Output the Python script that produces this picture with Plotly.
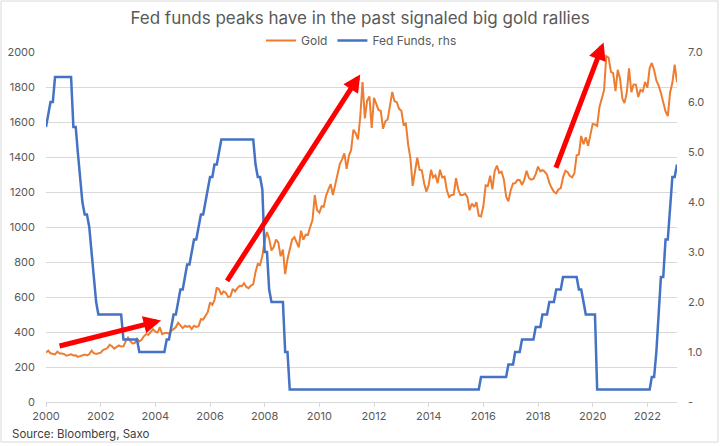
import plotly.graph_objects as go
import pandas as pd

title_text = "Fed funds peaks have in the past signaled big gold rallies"
source_text = "Source: Bloomberg, Saxo"
series_names = ["Gold", "Fed Funds, rhs"]
start_month = "2000-01-01"

# Month-end gold price (USD/oz), Jan 2000 - Feb 2023
gold = [
    283.3, 293.7, 278.4, 275.0, 272.3, 288.2, 276.8, 277.0, 273.6, 264.5, 269.1, 272.2,
    265.6, 266.7, 257.7, 263.2, 267.5, 270.6, 265.9, 273.0, 293.1, 278.8, 275.0, 278.7,
    282.1, 297.0, 302.4, 308.2, 326.6, 318.5, 304.7, 312.8, 323.7, 316.9, 317.7, 347.2,
    368.2, 347.5, 334.9, 336.8, 361.4, 346.0, 354.8, 375.6, 388.0, 383.8, 398.4, 416.3,
    402.2, 396.9, 427.3, 387.5, 393.3, 395.8, 390.9, 408.4, 415.7, 428.4, 452.9, 438.0,
    422.2, 435.5, 428.9, 435.0, 416.9, 435.7, 429.5, 433.3, 473.3, 470.8, 494.6, 513.0,
    568.8, 556.0, 582.0, 654.5, 643.2, 613.5, 632.5, 623.5, 599.3, 604.2, 646.7, 632.0,
    650.5, 664.2, 661.8, 678.4, 657.5, 650.5, 665.5, 672.0, 742.8, 789.5, 783.5, 833.8,
    923.3, 971.5, 933.5, 865.4, 885.8, 928.3, 912.3, 832.9, 870.9, 730.8, 816.2, 869.8,
    927.3, 942.5, 916.5, 883.3, 978.8, 927.4, 955.7, 955.1, 1001.0, 1039.9, 1182.0, 1096.2,
    1081.8, 1118.9, 1115.5, 1179.3, 1213.5, 1245.5, 1182.0, 1247.8, 1307.8, 1359.4, 1386.2, 1421.1,
    1332.3, 1409.7, 1439.0, 1556.0, 1536.2, 1500.4, 1628.3, 1828.5, 1620.4, 1722.0, 1746.4, 1565.8,
    1737.8, 1696.3, 1668.9, 1663.4, 1561.4, 1604.2, 1614.0, 1691.7, 1772.1, 1719.1, 1713.5, 1675.4,
    1663.7, 1578.9, 1595.7, 1472.2, 1393.2, 1234.6, 1312.9, 1395.8, 1326.5, 1323.6, 1250.5, 1201.6,
    1240.1, 1326.4, 1283.8, 1295.9, 1250.5, 1327.3, 1282.6, 1287.5, 1208.2, 1171.1, 1182.7, 1184.4,
    1278.6, 1212.6, 1183.2, 1182.4, 1190.6, 1171.9, 1095.7, 1134.6, 1114.6, 1142.2, 1064.8, 1060.2,
    1118.2, 1238.0, 1234.5, 1292.7, 1214.6, 1320.6, 1351.0, 1308.0, 1315.8, 1272.0, 1173.7, 1147.5,
    1210.5, 1248.7, 1249.2, 1268.3, 1268.9, 1241.6, 1269.3, 1321.4, 1280.2, 1270.2, 1275.0, 1302.5,
    1345.1, 1317.9, 1325.5, 1315.3, 1298.5, 1252.6, 1223.7, 1201.0, 1192.5, 1214.8, 1222.5, 1282.5,
    1321.3, 1313.3, 1292.3, 1283.7, 1305.6, 1409.6, 1413.7, 1520.3, 1472.5, 1513.0, 1463.6, 1517.3,
    1589.2, 1585.7, 1577.2, 1686.3, 1730.3, 1780.9, 1975.9, 1967.6, 1886.9, 1879.9, 1776.9, 1898.4,
    1847.7, 1734.0, 1707.7, 1768.6, 1906.9, 1770.1, 1814.2, 1813.6, 1742.8, 1783.4, 1774.5, 1829.2,
    1796.8, 1908.4, 1937.4, 1896.9, 1837.3, 1807.3, 1765.9, 1711.0, 1660.6, 1633.6, 1768.5, 1824.0,
    1928.4, 1826.9,
]

# Fed funds target rate (upper bound, %), Jan 2000 - Feb 2023
fed_funds = [
    5.5, 5.75, 6.0, 6.0, 6.5, 6.5, 6.5, 6.5, 6.5, 6.5, 6.5, 6.5,
    5.5, 5.5, 5.0, 4.5, 4.0, 3.75, 3.75, 3.5, 3.0, 2.5, 2.0, 1.75,
    1.75, 1.75, 1.75, 1.75, 1.75, 1.75, 1.75, 1.75, 1.75, 1.75, 1.25, 1.25,
    1.25, 1.25, 1.25, 1.25, 1.25, 1.0, 1.0, 1.0, 1.0, 1.0, 1.0, 1.0,
    1.0, 1.0, 1.0, 1.0, 1.0, 1.25, 1.25, 1.5, 1.75, 1.75, 2.0, 2.25,
    2.25, 2.5, 2.75, 2.75, 3.0, 3.25, 3.25, 3.5, 3.75, 3.75, 4.0, 4.25,
    4.5, 4.5, 4.75, 4.75, 5.0, 5.25, 5.25, 5.25, 5.25, 5.25, 5.25, 5.25,
    5.25, 5.25, 5.25, 5.25, 5.25, 5.25, 5.25, 5.25, 4.75, 4.5, 4.5, 4.25,
    3.0, 3.0, 2.25, 2.0, 2.0, 2.0, 2.0, 2.0, 2.0, 1.0, 1.0, 0.25,
    0.25, 0.25, 0.25, 0.25, 0.25, 0.25, 0.25, 0.25, 0.25, 0.25, 0.25, 0.25,
    0.25, 0.25, 0.25, 0.25, 0.25, 0.25, 0.25, 0.25, 0.25, 0.25, 0.25, 0.25,
    0.25, 0.25, 0.25, 0.25, 0.25, 0.25, 0.25, 0.25, 0.25, 0.25, 0.25, 0.25,
    0.25, 0.25, 0.25, 0.25, 0.25, 0.25, 0.25, 0.25, 0.25, 0.25, 0.25, 0.25,
    0.25, 0.25, 0.25, 0.25, 0.25, 0.25, 0.25, 0.25, 0.25, 0.25, 0.25, 0.25,
    0.25, 0.25, 0.25, 0.25, 0.25, 0.25, 0.25, 0.25, 0.25, 0.25, 0.25, 0.25,
    0.25, 0.25, 0.25, 0.25, 0.25, 0.25, 0.25, 0.25, 0.25, 0.25, 0.25, 0.5,
    0.5, 0.5, 0.5, 0.5, 0.5, 0.5, 0.5, 0.5, 0.5, 0.5, 0.5, 0.75,
    0.75, 0.75, 1.0, 1.0, 1.0, 1.25, 1.25, 1.25, 1.25, 1.25, 1.25, 1.5,
    1.5, 1.5, 1.75, 1.75, 1.75, 2.0, 2.0, 2.0, 2.25, 2.25, 2.25, 2.5,
    2.5, 2.5, 2.5, 2.5, 2.5, 2.5, 2.25, 2.25, 2.0, 1.75, 1.75, 1.75,
    1.75, 1.75, 0.25, 0.25, 0.25, 0.25, 0.25, 0.25, 0.25, 0.25, 0.25, 0.25,
    0.25, 0.25, 0.25, 0.25, 0.25, 0.25, 0.25, 0.25, 0.25, 0.25, 0.25, 0.25,
    0.25, 0.25, 0.5, 0.5, 1.0, 1.75, 2.5, 2.5, 3.25, 3.25, 4.0, 4.5,
    4.5, 4.75,
]

x_tick_years = ["2000", "2002", "2004", "2006", "2008", "2010", "2012",
                "2014", "2016", "2018", "2020", "2022"]
left_ticks = [0, 200, 400, 600, 800, 1000, 1200, 1400, 1600, 1800, 2000]
right_tickvals = [0, 1, 2, 3, 4, 5, 6, 7]
right_ticktext = ["-", "1.0", "2.0", "3.0", "4.0", "5.0", "6.0", "7.0"]

months = pd.date_range(start_month, periods=len(gold), freq="MS")

FONT = "Inter"
GRAY = "#595959"
GRID = "#D9D9D9"

fig = go.Figure()
fig.add_trace(go.Scatter(x=months, y=gold, name=series_names[0], mode="lines",
                         line=dict(color="#ED7D31", width=2), yaxis="y"))
fig.add_trace(go.Scatter(x=months, y=fed_funds, name=series_names[1], mode="lines",
                         line=dict(color="#4472C4", width=2.5), yaxis="y2"))

arrows = [
    ("2004-03-17", 466, "2000-06-10", 318),
    ("2011-07-01", 1872, "2006-08-04", 684),
    ("2020-05-26", 2055, "2018-08-21", 1330),
]
for tx, ty, sx, sy in arrows:
    fig.add_annotation(x=tx, y=ty, ax=sx, ay=sy, xref="x", yref="y",
                       axref="x", ayref="y", text="", showarrow=True,
                       arrowhead=2, arrowsize=0.7, arrowwidth=5,
                       arrowcolor="#FF0000")

fig.add_annotation(text=source_text, xref="paper", yref="paper",
                   x=(10 - 46) / 631, y=-32.3 / 350, xanchor="left",
                   yanchor="middle", showarrow=False,
                   font=dict(family=FONT, size=11.5, color="#404040"))

fig.add_shape(type="rect", xref="paper", yref="paper",
              x0=(1 - 46) / 631, x1=(718 - 46) / 631,
              y0=-(442 - 402) / 350, y1=(402 - 1) / 350,
              line=dict(color=GRID, width=1), fillcolor="rgba(0,0,0,0)",
              layer="below")

fig.update_layout(
    width=720, height=446,
    margin=dict(l=46, r=43, t=52, b=44, autoexpand=False),
    paper_bgcolor="white", plot_bgcolor="white",
    font=dict(family=FONT, size=11, color=GRAY),
    title=dict(text=title_text, x=0.5, xref="container", y=1 - 18 / 446,
               yanchor="middle", xanchor="center",
               font=dict(family=FONT, size=17, color=GRAY)),
    legend=dict(orientation="h", x=0.5, xanchor="center", y=1 + 11.5 / 350,
                yanchor="middle", font=dict(size=12, color=GRAY),
                bgcolor="rgba(0,0,0,0)", itemwidth=30),
    showlegend=True,
    xaxis=dict(type="date", range=["2000-01-01", "2023-02-01"],
               tickvals=[f"{y}-01-01" for y in x_tick_years],
               ticktext=x_tick_years, showgrid=False, zeroline=False,
               showline=True, linecolor=GRID, linewidth=1,
               ticks="outside", ticklen=4, tickcolor=GRID, automargin=False,
               tickfont=dict(size=11, color=GRAY)),
    yaxis=dict(range=[0, 2000], tickvals=left_ticks, showgrid=True,
               gridcolor=GRID, gridwidth=1, zeroline=False, showline=False,
               ticks="", ticklabelstandoff=10, automargin=False,
               tickfont=dict(size=11, color=GRAY)),
    yaxis2=dict(range=[0, 7], overlaying="y", side="right",
                tickvals=right_tickvals, ticktext=right_ticktext,
                showgrid=False, zeroline=False, showline=False, ticks="",
                ticklabelstandoff=10, automargin=False,
                tickfont=dict(size=11, color=GRAY)),
)

fig.write_html("out.html")
